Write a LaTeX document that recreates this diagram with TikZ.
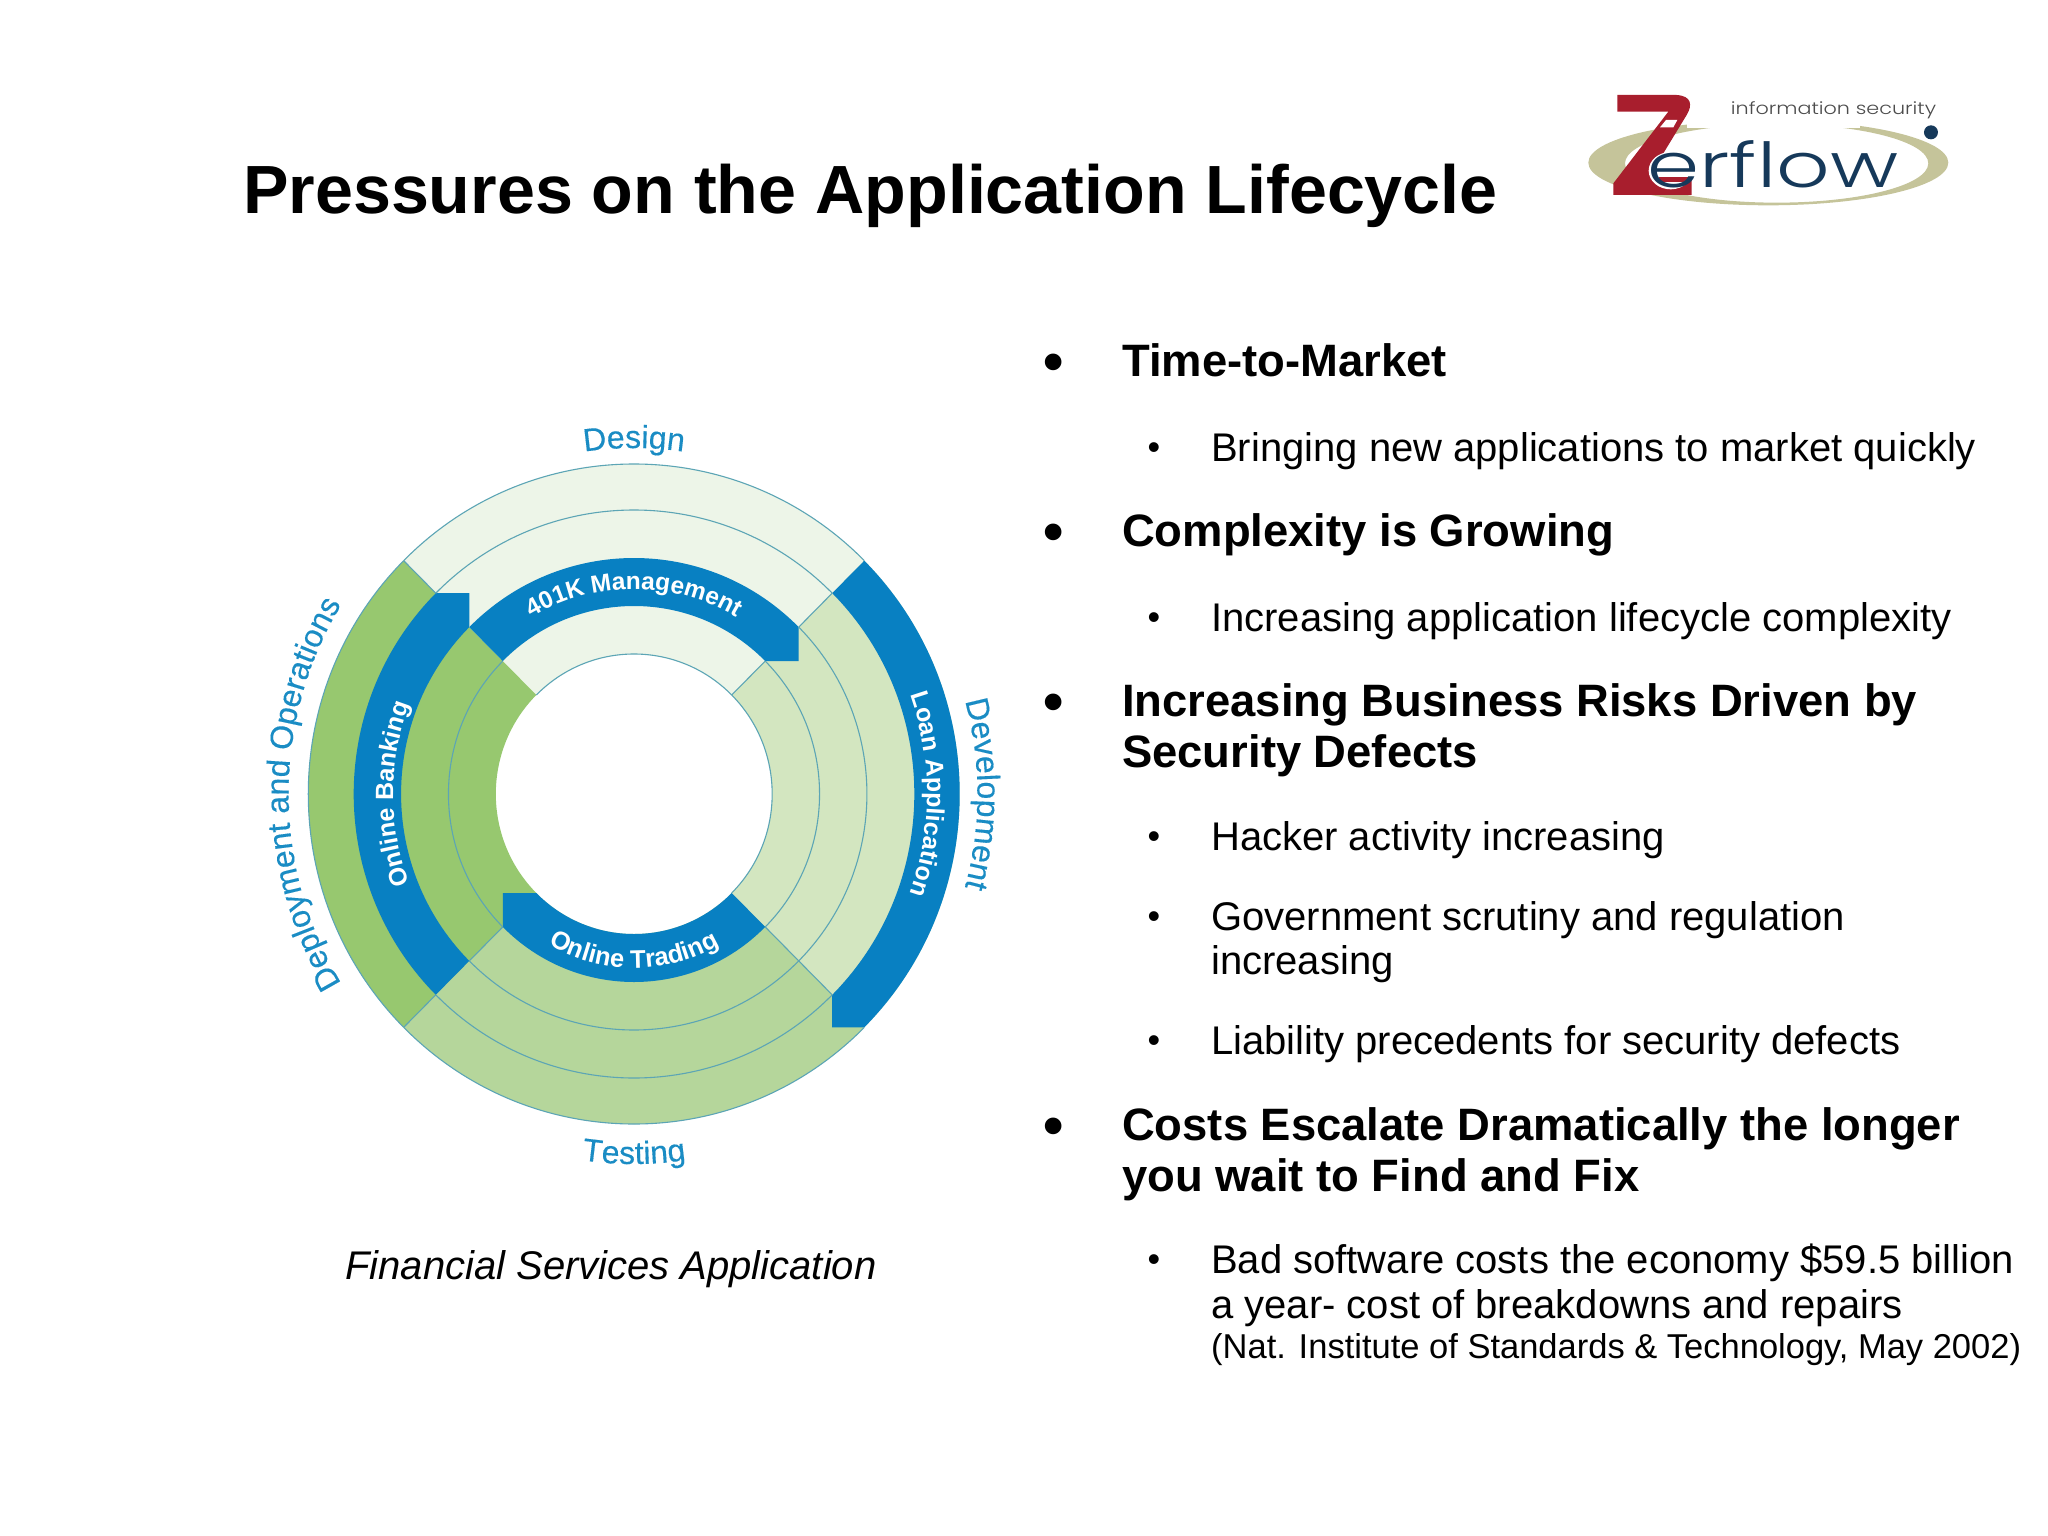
\documentclass[tikz,border=0pt]{standalone}
\usepackage{fontspec}
\setmainfont{Liberation Sans}
\newfontfamily\logofont{Poppins Light}
\newfontfamily\labelfont[FakeBold=0.3]{Liberation Sans}
\usetikzlibrary{decorations.text}
\definecolor{ablue}{HTML}{0880C2}
\definecolor{tblue}{HTML}{1A8CC4}
\definecolor{gleft}{HTML}{97C86F}
\definecolor{gright}{HTML}{D3E6C0}
\definecolor{gbottom}{HTML}{B5D69B}
\definecolor{gtop}{HTML}{EDF5E8}
\definecolor{rule}{HTML}{5CA5B5}
\definecolor{zred}{HTML}{A81E2D}
\definecolor{zgold}{HTML}{C5C49A}
\definecolor{znavy}{HTML}{16395A}
\newcommand{\sector}[3]{(#1:140) arc[start angle=#1,end angle=#2,radius=140] -- (#2:330) arc[start angle=#2,end angle=#1,radius=330] -- cycle}
\tikzset{
  x=1pt,y=1pt,
  head/.style={anchor=base west,font=\bfseries\fontsize{45.4}{45.4}\selectfont,inner sep=0pt},
  sub/.style={anchor=base west,font=\fontsize{40}{40}\selectfont,inner sep=0pt},
  bigdot/.style={anchor=base,font=\bfseries\fontsize{58}{58}\selectfont,inner sep=0pt,yshift=-5pt},
  smalldot/.style={anchor=base,font=\fontsize{36}{36}\selectfont,inner sep=0pt,yshift=2pt},
  ring/.style={draw=rule,line width=1.1pt},
  curved/.style={postaction={decorate},decoration={text along path,text align=center,text={#1}}},
}
\begin{document}
\begin{tikzpicture}
\useasboundingbox (0,0) rectangle (2048,-1536);
\fill[white] (0,0) rectangle (2048,-1536);
% title
\node[anchor=base west,inner sep=0pt,font=\bfseries\fontsize{68.2}{68.2}\selectfont] (title) at (243,-213) {Pressures on the Application Lifecycle};
% logo
\begin{scope}[shift={(1560,-70)},x=0.3333pt,y=-0.3333pt]
\fill[zgold,even odd rule] (625,278) ellipse[x radius=540,y radius=128]
   (650,280) ellipse[x radius=455,y radius=118];
\fill[white] (380,120) rectangle (900,175);
\fill[zred] (172,75) -- (350,75) .. controls (395,78) and (398,105) .. (380,135) -- (310,250) -- (272,320) -- (395,320) -- (395,375) -- (160,375) -- (160,340) -- (325,125) -- (172,125) -- cycle;
\fill[white] (318,150) -- (352,150) -- (340,172) -- (300,172) -- cycle;
\fill[white] (332,302) ellipse[x radius=66,y radius=56];
\fill[zred] (298,320) rectangle (390,335);
\node[anchor=base west,inner sep=0pt,xscale=1.35,text=znavy,font=\logofont\fontsize{62}{62}\selectfont] (logotext) at (262,352) {erflow};
\node[anchor=base west,inner sep=0pt,xscale=1.22,text=black!70,font=\logofont\fontsize{17}{17}\selectfont] (logosub) at (512,135) {information security};
\fill[znavy] (1113,187) circle[x radius=21,y radius=21];
\end{scope}
% wheel
\begin{scope}[shift={(634,-794)},xscale=0.987]
\fill[gtop] \sector{45}{135}{};
\fill[gleft] \sector{135}{225}{};
\fill[gbottom] \sector{225}{315}{};
\fill[gright] \sector{315}{405}{};
% blue arrows
\fill[ablue] (135:236) arc[start angle=135,end angle=45,radius=236] -- ({236*cos(45)},{188*sin(45)}) -- (45:188) arc[start angle=45,end angle=135,radius=188] -- cycle;
\fill[ablue] (225:236) arc[start angle=225,end angle=135,radius=236] -- (135:236) -- ({236*cos(135)},{284*sin(135)}) -- (135:284) arc[start angle=135,end angle=225,radius=284] -- cycle;
\fill[ablue] (45:284) arc[start angle=45,end angle=-45,radius=284] -- ({284*cos(45)},{-330*sin(45)}) -- (-45:330) arc[start angle=-45,end angle=45,radius=330] -- cycle;
\fill[ablue] (-45:140) arc[start angle=-45,end angle=-135,radius=140] -- ({188*cos(225)},{140*sin(225)}) -- (225:188) arc[start angle=225,end angle=315,radius=188] -- cycle;
% thin lines
\draw[ring] (45:284) arc[start angle=45,end angle=135,radius=284];
\draw[ring] (45:330) arc[start angle=45,end angle=135,radius=330];
\draw[ring] (45:140) arc[start angle=45,end angle=135,radius=140];
\draw[ring] (135:188) arc[start angle=135,end angle=225,radius=188];
\draw[ring] (135:330) arc[start angle=135,end angle=225,radius=330];
\draw[ring] (225:236) arc[start angle=225,end angle=315,radius=236];
\draw[ring] (225:284) arc[start angle=225,end angle=315,radius=284];
\draw[ring] (225:330) arc[start angle=225,end angle=315,radius=330];
\draw[ring] (-45:140) arc[start angle=-45,end angle=45,radius=140];
\draw[ring] (-45:188) arc[start angle=-45,end angle=45,radius=188];
\draw[ring] (-45:236) arc[start angle=-45,end angle=45,radius=236];
\draw[ring] (135:284) -- (135:330);
\draw[ring] (45:140) -- (45:188);
\draw[ring] (45:236) -- (45:284);
\draw[ring] (-45:188) -- (-45:284);
\draw[ring] (225:188) -- (225:236);
\draw[ring] (225:284) -- (225:330);
% curved labels
\path[curved={|\color{white}\bfseries\fontsize{24.5}{24.5}\selectfont|401K Management}] (125:205) arc[start angle=125,end angle=55,radius=205];
\path[curved={|\color{white}\bfseries\fontsize{25}{25}\selectfont|Online Banking}] (205:244) arc[start angle=205,end angle=155,radius=244];
\path[curved={|\color{white}\bfseries\fontsize{25}{25}\selectfont|Loan Application}] (25:297) arc[start angle=25,end angle=-25,radius=297];
\path[curved={|\color{white}\bfseries\fontsize{25.5}{25.5}\selectfont|Online Trading}] (235:174) arc[start angle=235,end angle=305,radius=174];
\path[curved={|\labelfont\color{tblue}\fontsize{32}{32}\selectfont|Design}] (110:346) arc[start angle=110,end angle=70,radius=346];
\path[curved={|\labelfont\color{tblue}\fontsize{32}{32}\selectfont|Testing}] (250:370) arc[start angle=250,end angle=290,radius=370];
\path[curved={|\labelfont\color{tblue}\fontsize{32}{32}\selectfont|Development}] (20:348) arc[start angle=20,end angle=-20,radius=348];
\path[curved={|\labelfont\color{tblue}\fontsize{32}{32}\selectfont|Deployment and Operations}] ({12+362*cos(216)},{362*sin(216)}) arc[start angle=216,end angle=144,radius=362];
\end{scope}
% caption
\node[anchor=base west,inner sep=0pt,font=\itshape\fontsize{40}{40}\selectfont] (caption) at (345,-1279) {Financial Services Application};
% bullets
\node[bigdot] (d1) at (1054,-376) {•};
\node[head] (h1) at (1122,-376) {Time-to-Market};
\node[smalldot] (s1) at (1154,-461) {•};
\node[sub] (t1) at (1211,-461) {Bringing new applications to market quickly};
\node[bigdot] (d2) at (1054,-546) {•};
\node[head] (h2) at (1122,-546) {Complexity is Growing};
\node[smalldot] (s2) at (1154,-631) {•};
\node[sub] (t2) at (1211,-631) {Increasing application lifecycle complexity};
\node[bigdot] (d3) at (1054,-716) {•};
\node[head] (h3) at (1122,-716) {Increasing Business Risks Driven by};
\node[head] (h3b) at (1122,-767) {Security Defects};
\node[smalldot] (s3) at (1154,-850) {•};
\node[sub] (t3) at (1211,-850) {Hacker activity increasing};
\node[smalldot] (s4) at (1154,-930) {•};
\node[sub] (t4) at (1211,-930) {Government scrutiny and regulation};
\node[sub] (t4b) at (1211,-974) {increasing};
\node[smalldot] (s5) at (1154,-1054) {•};
\node[sub] (t5) at (1211,-1054) {Liability precedents for security defects};
\node[bigdot] (d4) at (1054,-1140) {•};
\node[head] (h4) at (1122,-1140) {Costs Escalate Dramatically the longer};
\node[head] (h4b) at (1122,-1191) {you wait to Find and Fix};
\node[smalldot] (s6) at (1154,-1273) {•};
\node[sub] (t6) at (1211,-1273) {Bad software costs the economy \$59.5 billion};
\node[sub] (t6b) at (1211,-1318) {a year- cost of breakdowns and repairs};
\node[anchor=base west,inner sep=0pt,font=\fontsize{34.5}{34.5}\selectfont] (t6c) at (1211,-1358) {(Nat. Institute of Standards \& Technology, May 2002)};
\end{tikzpicture}
\end{document}
